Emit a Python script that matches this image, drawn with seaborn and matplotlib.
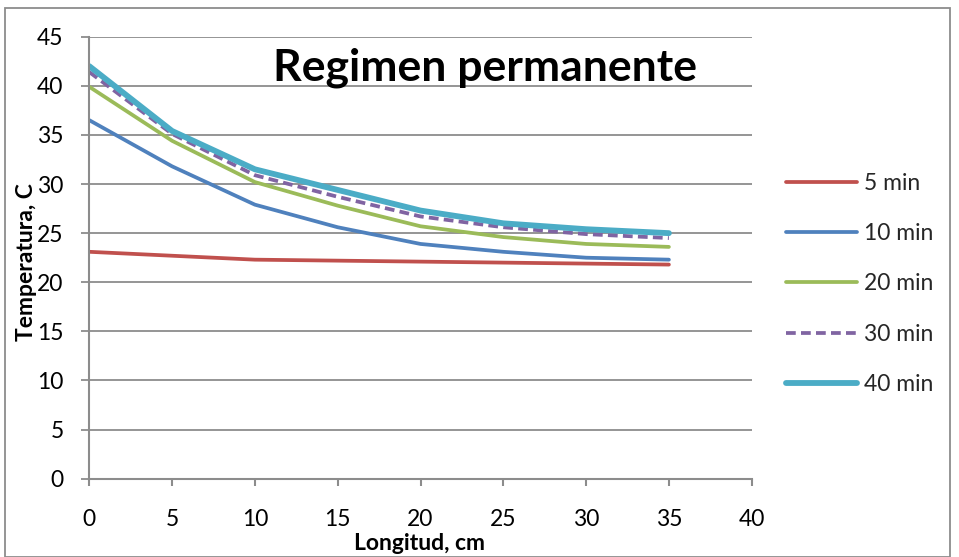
import matplotlib
matplotlib.use("Agg")
import matplotlib.pyplot as plt
import matplotlib.patches as patches
import seaborn as sns
import pandas as pd

# Data
longitud = [0, 5, 10, 15, 20, 25, 30, 35]
t_5min = [23.1, 22.7, 22.3, 22.2, 22.1, 22.0, 21.9, 21.8]
t_10min = [36.5, 31.8, 27.9, 25.6, 23.9, 23.1, 22.5, 22.3]
t_20min = [39.9, 34.4, 30.2, 27.8, 25.7, 24.6, 23.9, 23.6]
t_30min = [41.4, 35.1, 30.9, 28.7, 26.7, 25.6, 24.9, 24.5]
t_40min = [42.0, 35.4, 31.5, 29.4, 27.3, 26.0, 25.4, 25.0]
series_names = ["5 min", "10 min", "20 min", "30 min", "40 min"]
title = "Regimen permanente"
xlabel = "Longitud, cm"
ylabel = "Temperatura, C"

series = [t_5min, t_10min, t_20min, t_30min, t_40min]
colors = ["#C0504D", "#4F81BD", "#9BBB59", "#8064A2", "#4BACC6"]
widths = [2.7, 2.7, 2.7, 2.7, 4.2]
styles = ["-", "-", "-", (0, (2.6, 1.4)), "-"]

sns.set_theme(style="white")
plt.rcParams['font.family'] = ['Lato', 'DejaVu Sans']

fig = plt.figure(figsize=(9.59, 5.57), dpi=100)
ax = fig.add_axes([89.3 / 959, 1 - 478.7 / 557, (751.7 - 89.3) / 959, (478.7 - 36.7) / 557])

frames = []
for name, vals in zip(series_names, series):
    frames.append(pd.DataFrame({"Longitud": longitud, "Temperatura": vals, "serie": name}))
df = pd.concat(frames, ignore_index=True)

for name, c, lw, ls in zip(series_names, colors, widths, styles):
    sub = df[df["serie"] == name]
    sns.lineplot(data=sub, x="Longitud", y="Temperatura", ax=ax, color=c,
                 linewidth=lw, linestyle=ls, label=name, legend=False,
                 solid_capstyle="round", dash_capstyle="butt")

ax.set_xlim(0, 40)
ax.set_ylim(0, 45)
ax.set_xticks(range(0, 41, 5))
ax.set_yticks(range(0, 46, 5))
ax.grid(axis="y", color="#8C8C8C", linewidth=1.3)
ax.grid(axis="x", visible=False)
ax.set_axisbelow(True)
for s in ["top", "right"]:
    ax.spines[s].set_visible(False)
for s in ["left", "bottom"]:
    ax.spines[s].set_color("#8C8C8C")
    ax.spines[s].set_linewidth(1.5)
ax.tick_params(axis="x", direction="out", length=5, width=1.5, color="#8C8C8C",
               pad=17, labelsize=16.5, labelcolor="black", bottom=True)
ax.tick_params(axis="y", direction="out", length=6, width=1.3, color="#8C8C8C",
               pad=12.5, labelsize=16.5, labelcolor="black", left=True)
ax.set_xlabel("")
ax.set_ylabel("")

ax.text(0.597, 0.93, title, transform=ax.transAxes, ha="center", va="center",
        fontsize=32, fontweight="bold", color="black")

fig.text(0.028, 1 - 262 / 557, ylabel, rotation=90, ha="center", va="center",
         fontsize=16.5, fontweight="bold", color="black")
fig.text(420 / 959, 1 - 544 / 557, xlabel, ha="center", va="center",
         fontsize=16.5, fontweight="bold", color="black")

h, l = ax.get_legend_handles_labels()
leg = fig.legend(h, l, loc="center left", bbox_to_anchor=(786 / 959, 1 - 284 / 557),
                 frameon=False, fontsize=16.5, handlelength=3.1, handletextpad=0.3,
                 labelspacing=1.28, borderpad=0, borderaxespad=0)

fig.patches.append(patches.Rectangle((5 / 959, 0), 945 / 959, 1 - 8 / 557,
                                     transform=fig.transFigure, fill=False,
                                     edgecolor="#8C8C8C", linewidth=1.3))

fig.savefig("out.png", dpi=100)
